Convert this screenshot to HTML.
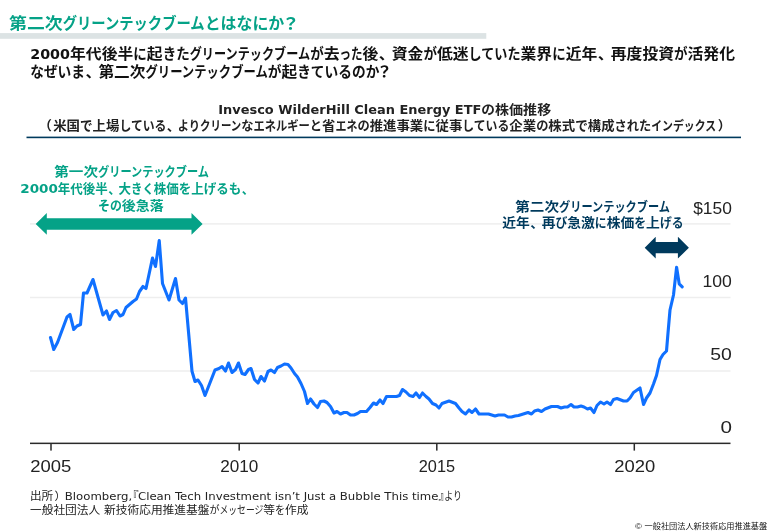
<!DOCTYPE html>
<html lang="ja"><head><meta charset="utf-8"><title>第二次グリーンテックブームとはなにか？</title>
<style>
html,body{margin:0;padding:0;background:#fff;}
body{width:768px;height:532px;overflow:hidden;font-family:"Liberation Sans", "Noto Sans CJK JP", sans-serif;}
svg{display:block;}
svg text{font-family:"Liberation Sans", "Noto Sans CJK JP", sans-serif;white-space:pre;}
svg text.dv{font-family:"DejaVu Sans","Noto Sans CJK JP",sans-serif;}
</style></head><body>
<svg width="768" height="532" viewBox="0 0 768 532">
<rect width="768" height="532" fill="#fff"/>
<rect x="0" y="33.1" width="486.3" height="5.7" fill="#dce3e4"/>

<text y="28.9" font-size="16" fill="#05a287" font-weight="bold" xml:space="preserve"><tspan x="9.00" textLength="53.70" lengthAdjust="spacingAndGlyphs">第二次</tspan><tspan x="62.70" textLength="141.96" lengthAdjust="spacingAndGlyphs">グリーンテックブーム</tspan><tspan x="204.66" textLength="79.64" lengthAdjust="spacingAndGlyphs">とはなにか</tspan><tspan x="281.79" textLength="17.90" lengthAdjust="spacingAndGlyphs">？</tspan></text>
<text y="58.9" font-size="14.6" fill="#111" font-weight="bold" class="dv" xml:space="preserve"><tspan x="30.20" textLength="39.84" lengthAdjust="spacingAndGlyphs">2000</tspan><tspan x="70.04" textLength="63.26" lengthAdjust="spacingAndGlyphs">年代後半</tspan><tspan x="133.30" textLength="13.52" lengthAdjust="spacingAndGlyphs">に</tspan><tspan x="146.82" textLength="15.82" lengthAdjust="spacingAndGlyphs">起</tspan><tspan x="162.63" textLength="27.04" lengthAdjust="spacingAndGlyphs">きた</tspan><tspan x="189.68" textLength="120.52" lengthAdjust="spacingAndGlyphs">グリーンテックブーム</tspan><tspan x="310.20" textLength="13.52" lengthAdjust="spacingAndGlyphs">が</tspan><tspan x="323.72" textLength="15.82" lengthAdjust="spacingAndGlyphs">去</tspan><tspan x="339.54" textLength="23.01" lengthAdjust="spacingAndGlyphs">った</tspan><tspan x="362.55" textLength="15.82" lengthAdjust="spacingAndGlyphs">後</tspan><tspan x="378.83" textLength="15.82" lengthAdjust="spacingAndGlyphs">、</tspan><tspan x="391.81" textLength="31.63" lengthAdjust="spacingAndGlyphs">資金</tspan><tspan x="423.44" textLength="13.52" lengthAdjust="spacingAndGlyphs">が</tspan><tspan x="436.96" textLength="31.63" lengthAdjust="spacingAndGlyphs">低迷</tspan><tspan x="468.59" textLength="51.95" lengthAdjust="spacingAndGlyphs">していた</tspan><tspan x="520.54" textLength="31.63" lengthAdjust="spacingAndGlyphs">業界</tspan><tspan x="552.17" textLength="13.52" lengthAdjust="spacingAndGlyphs">に</tspan><tspan x="565.70" textLength="31.63" lengthAdjust="spacingAndGlyphs">近年</tspan><tspan x="597.79" textLength="15.82" lengthAdjust="spacingAndGlyphs">、</tspan><tspan x="610.77" textLength="63.26" lengthAdjust="spacingAndGlyphs">再度投資</tspan><tspan x="674.03" textLength="13.52" lengthAdjust="spacingAndGlyphs">が</tspan><tspan x="687.55" textLength="47.45" lengthAdjust="spacingAndGlyphs">活発化</tspan></text>
<text y="77.2" font-size="14.6" fill="#111" font-weight="bold" xml:space="preserve"><tspan x="30.20" textLength="54.86" lengthAdjust="spacingAndGlyphs">なぜいま</tspan><tspan x="85.53" textLength="15.70" lengthAdjust="spacingAndGlyphs">、</tspan><tspan x="98.41" textLength="47.10" lengthAdjust="spacingAndGlyphs">第二次</tspan><tspan x="145.51" textLength="122.25" lengthAdjust="spacingAndGlyphs">グリーンテックブーム</tspan><tspan x="267.76" textLength="13.72" lengthAdjust="spacingAndGlyphs">が</tspan><tspan x="281.47" textLength="15.70" lengthAdjust="spacingAndGlyphs">起</tspan><tspan x="297.17" textLength="82.29" lengthAdjust="spacingAndGlyphs">きているのか</tspan><tspan x="376.48" textLength="15.70" lengthAdjust="spacingAndGlyphs">？</tspan></text>
<text y="114.2" font-size="12.6" fill="#222" font-weight="bold" class="dv" xml:space="preserve"><tspan x="218.30" textLength="263.00" lengthAdjust="spacingAndGlyphs">Invesco WilderHill Clean Energy ETF</tspan><tspan x="481.30" textLength="13.70" lengthAdjust="spacingAndGlyphs">の</tspan><tspan x="495.00" textLength="56.20" lengthAdjust="spacingAndGlyphs">株価推移</tspan></text>
<text y="130.3" font-size="12.9" fill="#222" font-weight="bold" xml:space="preserve"><tspan x="38.46" textLength="13.40" lengthAdjust="spacingAndGlyphs">（</tspan><tspan x="53.20" textLength="26.80" lengthAdjust="spacingAndGlyphs">米国</tspan><tspan x="80.00" textLength="12.60" lengthAdjust="spacingAndGlyphs">で</tspan><tspan x="92.60" textLength="26.80" lengthAdjust="spacingAndGlyphs">上場</tspan><tspan x="119.40" textLength="47.02" lengthAdjust="spacingAndGlyphs">している</tspan><tspan x="166.81" textLength="13.40" lengthAdjust="spacingAndGlyphs">、</tspan><tspan x="177.80" textLength="22.26" lengthAdjust="spacingAndGlyphs">より</tspan><tspan x="200.06" textLength="41.18" lengthAdjust="spacingAndGlyphs">クリーン</tspan><tspan x="241.24" textLength="12.24" lengthAdjust="spacingAndGlyphs">な</tspan><tspan x="253.47" textLength="56.34" lengthAdjust="spacingAndGlyphs">エネルギー</tspan><tspan x="309.82" textLength="12.24" lengthAdjust="spacingAndGlyphs">と</tspan><tspan x="322.05" textLength="13.40" lengthAdjust="spacingAndGlyphs">省</tspan><tspan x="335.45" textLength="21.98" lengthAdjust="spacingAndGlyphs">エネ</tspan><tspan x="357.44" textLength="12.24" lengthAdjust="spacingAndGlyphs">の</tspan><tspan x="369.67" textLength="53.60" lengthAdjust="spacingAndGlyphs">推進事業</tspan><tspan x="423.27" textLength="12.24" lengthAdjust="spacingAndGlyphs">に</tspan><tspan x="435.51" textLength="26.80" lengthAdjust="spacingAndGlyphs">従事</tspan><tspan x="462.31" textLength="47.02" lengthAdjust="spacingAndGlyphs">している</tspan><tspan x="509.33" textLength="26.80" lengthAdjust="spacingAndGlyphs">企業</tspan><tspan x="536.13" textLength="12.24" lengthAdjust="spacingAndGlyphs">の</tspan><tspan x="548.36" textLength="26.80" lengthAdjust="spacingAndGlyphs">株式</tspan><tspan x="575.16" textLength="12.60" lengthAdjust="spacingAndGlyphs">で</tspan><tspan x="587.76" textLength="26.80" lengthAdjust="spacingAndGlyphs">構成</tspan><tspan x="614.56" textLength="36.71" lengthAdjust="spacingAndGlyphs">された</tspan><tspan x="651.27" textLength="64.83" lengthAdjust="spacingAndGlyphs">インデックス</tspan><tspan x="717.71" textLength="13.40" lengthAdjust="spacingAndGlyphs">）</tspan></text>
<rect x="26.5" y="136.6" width="714.5" height="1.6" fill="#003a5d"/>
<rect x="30" y="223.15" width="700.5" height="1.5" fill="#eeeeee"/>
<rect x="30" y="296.75" width="700.5" height="1.5" fill="#eeeeee"/>
<rect x="30" y="370.25" width="700.5" height="1.5" fill="#eeeeee"/>
<rect x="30" y="442.6" width="700.5" height="1.5" fill="#2a2a2a"/>
<rect x="50.25" y="443" width="1.5" height="7.6" fill="#2a2a2a"/>
<rect x="238.45" y="443" width="1.5" height="7.6" fill="#2a2a2a"/>
<rect x="436.05" y="443" width="1.5" height="7.6" fill="#2a2a2a"/>
<rect x="633.55" y="443" width="1.5" height="7.6" fill="#2a2a2a"/>
<text x="30.3" y="471.9" font-size="15.8" fill="#222" font-weight="normal" text-anchor="start" textLength="41.1" lengthAdjust="spacingAndGlyphs">2005</text>
<text x="220.3" y="471.9" font-size="15.8" fill="#222" font-weight="normal" text-anchor="start" textLength="38.1" lengthAdjust="spacingAndGlyphs">2010</text>
<text x="418.8" y="471.9" font-size="15.8" fill="#222" font-weight="normal" text-anchor="start" textLength="36.3" lengthAdjust="spacingAndGlyphs">2015</text>
<text x="614.2" y="471.9" font-size="15.8" fill="#222" font-weight="normal" text-anchor="start" textLength="41.0" lengthAdjust="spacingAndGlyphs">2020</text>
<text x="693.2" y="213.7" font-size="15.6" fill="#222" font-weight="normal" text-anchor="start" textLength="38.7" lengthAdjust="spacingAndGlyphs">$150</text>
<text x="702.5" y="286.6" font-size="15.6" fill="#222" font-weight="normal" text-anchor="start" textLength="29.4" lengthAdjust="spacingAndGlyphs">100</text>
<text x="710.3" y="360.3" font-size="15.6" fill="#222" font-weight="normal" text-anchor="start" textLength="21.6" lengthAdjust="spacingAndGlyphs">50</text>
<text x="720.4" y="432.7" font-size="15.6" fill="#222" font-weight="normal" text-anchor="start" textLength="11.5" lengthAdjust="spacingAndGlyphs">0</text>
<polyline fill="none" stroke="#1070ff" stroke-width="3.1" stroke-linejoin="round" stroke-linecap="round" points="50.5,337.5 53.75,349.5 57.5,342.5 67,317 70,314.5 73.75,329.5 77,326 80.5,324.5 83.5,293 87,293 93,279.5 103,315 106.5,311 109.5,319.5 113,312.5 116.5,310.5 120,316 123,314.5 126,307.5 133,301.5 136.5,299 139.5,291.5 143,286.5 146,288.5 152.5,258 155.5,266.5 159.25,240.5 162.5,283.5 169,300 175.5,278.5 179,300 182.5,303.5 185.5,298 192,371.25 195,381.5 198,380 201.5,385.5 205,395.5 215,370 219,368.5 222,366.5 225.5,371 228.5,363 232,372.5 235.5,369.5 238.5,363 242,373.5 245,374.5 248.5,369.5 251,368.5 254.5,379.5 258,383 261,376.5 264.5,381 268,371.5 271,370 274.5,372.5 277.5,367.5 281,366 284.5,364 288,364.5 291,368 294.5,373.5 297.5,377 301,383.5 304.5,391.5 307.5,403.5 310.5,399 314,404 317.5,407.5 320.5,401.5 324,401 327,402.5 330.5,406.5 334,413 337,411.5 340.5,414 344,412.5 347,412.5 350.5,415 354,415 357.5,413.5 360.5,411.5 366.5,411.5 370,407.5 373.5,403 376.5,404.5 380,400 383,403.5 386.5,396.5 396.5,396.5 399.5,395.5 402.5,389.5 406,392 409.5,395.5 413,396.5 416,393 419.5,397.5 422.5,393 426,396.5 429,399 432.5,403.5 436,405 439,408 442,403.5 449,401 455.5,403.5 459,408 462,411.5 465.5,414 469,410 472,412.5 475.5,409 479,414 488.5,414 495,416 498.5,415 504.5,415 508,417 511.5,417 515,416 518.5,415.5 528,412.5 531.5,414 534.5,411 538,410 541.5,411.5 545,409 551.5,406.5 557.5,406.5 561,408 564.5,407 567.5,407 571,404.5 574,407 577.5,407 581,406 584,407 587.5,409 590.5,408 594,412.5 597,405.5 600.5,402 604,404 607,402 610.5,404.5 613.5,399.5 617,398.5 623.5,401 627,401 630,398 633.5,392.5 640,388 643.5,404.5 646.5,398 650,393 653.5,384 656.5,375.5 660,359.5 663,354.5 666.5,351 668,333 670,310 673.5,295 676.6,267.2 679.2,283.8 682.2,286.8"/>
<polygon fill="#05a287" points="35.7,223.9 46.800000000000004,213.0 46.800000000000004,218.15 191.5,218.15 191.5,213.0 202.6,223.9 191.5,234.8 191.5,229.65 46.800000000000004,229.65 46.800000000000004,234.8"/>
<polygon fill="#003a5d" points="644.7,247.65 655.7,236.70000000000002 655.7,242.0 677.9,242.0 677.9,236.70000000000002 688.9,247.65 677.9,258.6 677.9,253.3 655.7,253.3 655.7,258.6"/>
<text y="176.3" font-size="13" fill="#05a287" font-weight="bold" xml:space="preserve"><tspan x="54.30" textLength="43.70" lengthAdjust="spacingAndGlyphs">第一次</tspan><tspan x="98.00" textLength="111.00" lengthAdjust="spacingAndGlyphs">グリーンテックブーム</tspan></text>
<text y="193.2" font-size="13" fill="#05a287" font-weight="bold" class="dv" xml:space="preserve"><tspan x="20.30" textLength="37.57" lengthAdjust="spacingAndGlyphs">2000</tspan><tspan x="57.87" textLength="50.00" lengthAdjust="spacingAndGlyphs">年代後半</tspan><tspan x="108.24" textLength="12.50" lengthAdjust="spacingAndGlyphs">、</tspan><tspan x="118.50" textLength="12.50" lengthAdjust="spacingAndGlyphs">大</tspan><tspan x="131.00" textLength="22.78" lengthAdjust="spacingAndGlyphs">きく</tspan><tspan x="153.78" textLength="25.00" lengthAdjust="spacingAndGlyphs">株価</tspan><tspan x="178.78" textLength="12.52" lengthAdjust="spacingAndGlyphs">を</tspan><tspan x="191.30" textLength="12.50" lengthAdjust="spacingAndGlyphs">上</tspan><tspan x="203.80" textLength="37.57" lengthAdjust="spacingAndGlyphs">げるも</tspan><tspan x="241.74" textLength="12.50" lengthAdjust="spacingAndGlyphs">、</tspan></text>
<text y="209.8" font-size="13" fill="#05a287" font-weight="bold" xml:space="preserve"><tspan x="98.00" textLength="23.89" lengthAdjust="spacingAndGlyphs">その</tspan><tspan x="121.89" textLength="41.91" lengthAdjust="spacingAndGlyphs">後急落</tspan></text>
<text y="211" font-size="13" fill="#003a5d" font-weight="bold" xml:space="preserve"><tspan x="515.30" textLength="43.70" lengthAdjust="spacingAndGlyphs">第二次</tspan><tspan x="559.00" textLength="111.00" lengthAdjust="spacingAndGlyphs">グリーンテックブーム</tspan></text>
<text y="227" font-size="13" fill="#003a5d" font-weight="bold" xml:space="preserve"><tspan x="502.30" textLength="27.61" lengthAdjust="spacingAndGlyphs">近年</tspan><tspan x="530.32" textLength="13.81" lengthAdjust="spacingAndGlyphs">、</tspan><tspan x="541.65" textLength="13.81" lengthAdjust="spacingAndGlyphs">再</tspan><tspan x="555.45" textLength="11.80" lengthAdjust="spacingAndGlyphs">び</tspan><tspan x="567.26" textLength="27.61" lengthAdjust="spacingAndGlyphs">急激</tspan><tspan x="594.87" textLength="11.80" lengthAdjust="spacingAndGlyphs">に</tspan><tspan x="606.67" textLength="27.61" lengthAdjust="spacingAndGlyphs">株価</tspan><tspan x="634.28" textLength="11.80" lengthAdjust="spacingAndGlyphs">を</tspan><tspan x="646.09" textLength="13.81" lengthAdjust="spacingAndGlyphs">上</tspan><tspan x="659.89" textLength="23.61" lengthAdjust="spacingAndGlyphs">げる</tspan></text>
<text y="499.6" font-size="11" fill="#222" font-weight="normal" class="dv" xml:space="preserve"><tspan x="30.00" textLength="23.20" lengthAdjust="spacingAndGlyphs">出所</tspan><tspan x="54.59" textLength="11.60" lengthAdjust="spacingAndGlyphs">）</tspan><tspan x="64.80" textLength="67.39" lengthAdjust="spacingAndGlyphs">Bloomberg,</tspan><tspan x="127.09" textLength="11.60" lengthAdjust="spacingAndGlyphs">『</tspan><tspan x="137.99" textLength="300.42" lengthAdjust="spacingAndGlyphs">Clean Tech Investment isn’t Just a Bubble This time</tspan><tspan x="438.41" textLength="11.60" lengthAdjust="spacingAndGlyphs">』</tspan><tspan x="444.21" textLength="17.79" lengthAdjust="spacingAndGlyphs">より</tspan></text>
<text y="513.8" font-size="11" fill="#222" font-weight="normal" xml:space="preserve"><tspan x="30.00" textLength="70.25" lengthAdjust="spacingAndGlyphs">一般社団法人</tspan><tspan x="100.25" textLength="3.81" lengthAdjust="spacingAndGlyphs"> </tspan><tspan x="104.05" textLength="105.37" lengthAdjust="spacingAndGlyphs">新技術応用推進基盤</tspan><tspan x="209.43" textLength="10.01" lengthAdjust="spacingAndGlyphs">が</tspan><tspan x="219.44" textLength="43.93" lengthAdjust="spacingAndGlyphs">メッセージ</tspan><tspan x="263.37" textLength="11.71" lengthAdjust="spacingAndGlyphs">等</tspan><tspan x="275.07" textLength="10.01" lengthAdjust="spacingAndGlyphs">を</tspan><tspan x="285.08" textLength="23.42" lengthAdjust="spacingAndGlyphs">作成</tspan></text>
<text y="528.5" font-size="8" fill="#111" font-weight="normal" xml:space="preserve"><tspan x="635.00" textLength="9.54" lengthAdjust="spacingAndGlyphs">© </tspan><tspan x="644.54" textLength="122.66" lengthAdjust="spacingAndGlyphs">一般社団法人新技術応用推進基盤</tspan></text>
</svg></body></html>
